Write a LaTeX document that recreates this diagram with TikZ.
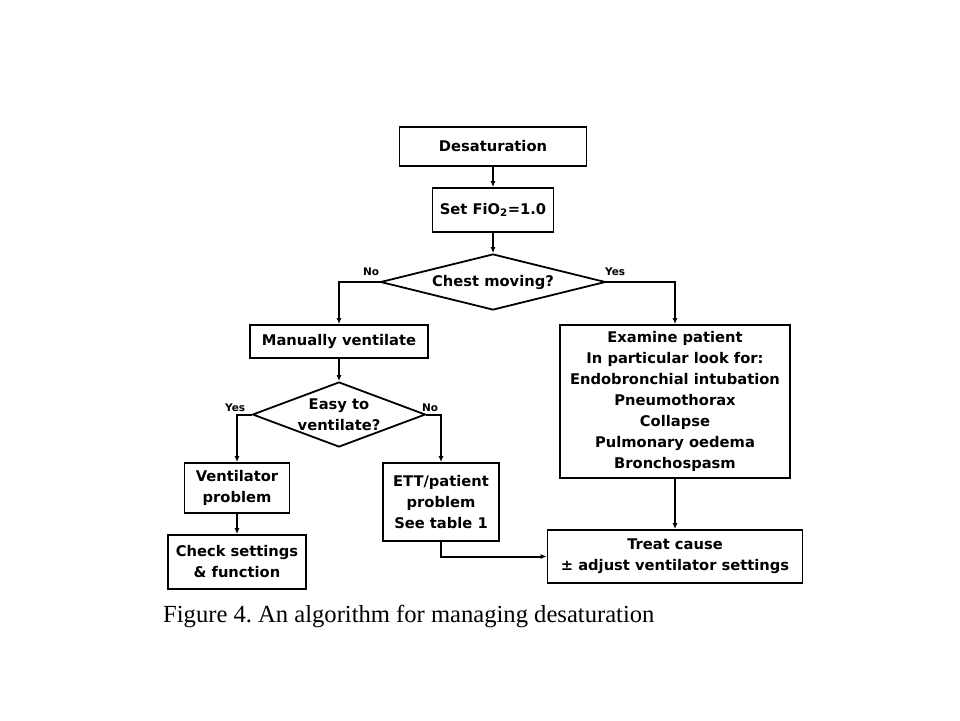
\documentclass[tikz,border=0pt]{standalone}
\usepackage{fontspec}
\setmainfont{DejaVu Sans}
\newfontfamily\capfont{Liberation Serif}
\usetikzlibrary{shapes.geometric,arrows.meta}
\frenchspacing
\tikzset{
  box/.style={draw, line width=1.8pt, rectangle, inner sep=0pt, align=center,
    font=\fontsize{14.7}{21}\selectfont\bfseries},
  dia/.style={draw, line width=1.8pt, diamond, inner sep=0pt},
  ttext/.style={align=center, font=\fontsize{14.7}{21}\selectfont\bfseries},
  lbl/.style={font=\fontsize{10.5}{12}\selectfont\bfseries, inner sep=0pt},
  conn/.style={line width=2pt},
  arr/.style={conn, -{Latex[length=6pt,width=5pt]}}
}
\begin{document}
\begin{tikzpicture}[x=1pt,y=-1pt]
\fill[white] (0,0) rectangle (960,720);
\useasboundingbox (0,0) rectangle (960,720);

\node[box, minimum width=187, minimum height=39] (desat) at (493,146.5) {Desaturation};
\node[box, minimum width=121, minimum height=44] (fio) at (493,210) {Set FiO$_\mathbf{2}$=1.0};
\node[dia, minimum width=225, minimum height=56] (chest) at (493,282) {};
\node[ttext] (chestt) at (chest) {Chest moving?};
\node[box, minimum width=178, minimum height=33] (man) at (339,341.5) {Manually ventilate};
\node[dia, minimum width=173, minimum height=65] (easy) at (339,414.5) {};
\node[ttext] (easyt) at (easy) {Easy to\\ventilate?};
\node[box, minimum width=230, minimum height=153] (exam) at (675,401.5) {Examine patient\\In particular look for:\\Endobronchial intubation\\Pneumothorax\\Collapse\\Pulmonary oedema\\Bronchospasm};
\node[box, minimum width=105, minimum height=50] (vent) at (237,488) {Ventilator\\problem};
\node[box, minimum width=138, minimum height=54] (check) at (237,562) {Check settings\\\& function};
\node[box, minimum width=116, minimum height=78] (ett) at (441,502) {ETT/patient\\problem\\See table 1};
\node[box, minimum width=255, minimum height=53] (treat) at (675,556.5) {Treat cause\\± adjust ventilator settings};

\draw[arr] (desat.south) -- (fio.north);
\draw[arr] (fio.south) -- (chest.north);
\draw[arr] (chest.west) -| (man.north);
\draw[arr] (chest.east) -| (exam.north);
\draw[arr] (man.south) -- (easy.north);
\draw[arr] (easy.west) -| (vent.north);
\draw[arr] (easy.east) -| (ett.north);
\draw[arr] (vent.south) -- (check.north);
\draw[arr] (exam.south) -- (treat.north);
\draw[arr] (ett.south) |- (treat.west);

\node[lbl, anchor=base west] (no1) at (363,275) {No};
\node[lbl, anchor=base west] (yes1) at (605,275) {Yes};
\node[lbl, anchor=base west] (yes2) at (225,411) {Yes};
\node[lbl, anchor=base west] (no2) at (422,411) {No};

\node[anchor=base west, inner sep=0pt, font=\capfont\fontsize{24.6}{28}\selectfont] (cap) at (163,622) {Figure 4. An algorithm for managing desaturation};
\end{tikzpicture}
\end{document}
